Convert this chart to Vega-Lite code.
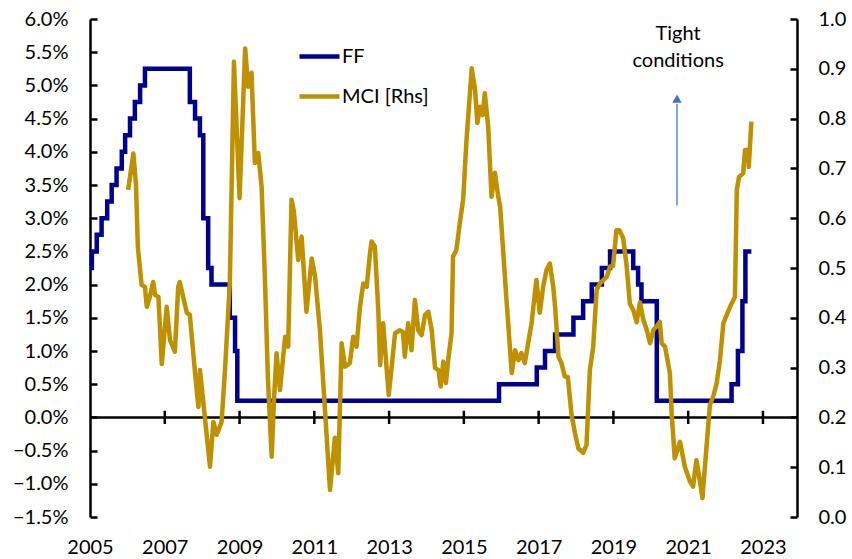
{
  "$schema": "https://vega.github.io/schema/vega-lite/v6.json",
  "width": 707,
  "height": 498,
  "autosize": {"type": "none"},
  "padding": {"left": 90, "top": 19, "right": 55, "bottom": 42},
  "background": "white",
  "config": {
    "view": {"stroke": null},
    "font": "Lato",
    "axis": {"grid": false, "labelFont": "Lato", "labelFontSize": 20, "labelColor": "black", "labelOverlap": false, "labelFlush": false, "labelBound": false}
  },
  "datasets": {
    "ff": [
      {"year": 2005.00, "ff": 2.25}, {"year": 2005.05, "ff": 2.5}, {"year": 2005.18, "ff": 2.75}, {"year": 2005.31, "ff": 3.0},
      {"year": 2005.46, "ff": 3.25}, {"year": 2005.58, "ff": 3.5}, {"year": 2005.71, "ff": 3.75}, {"year": 2005.85, "ff": 4.0},
      {"year": 2005.94, "ff": 4.25}, {"year": 2006.07, "ff": 4.5}, {"year": 2006.20, "ff": 4.75}, {"year": 2006.34, "ff": 5.0},
      {"year": 2006.47, "ff": 5.25}, {"year": 2007.67, "ff": 4.75}, {"year": 2007.81, "ff": 4.5}, {"year": 2007.94, "ff": 4.25},
      {"year": 2008.03, "ff": 3.0}, {"year": 2008.16, "ff": 2.25}, {"year": 2008.25, "ff": 2.0}, {"year": 2008.74, "ff": 1.5},
      {"year": 2008.88, "ff": 1.0}, {"year": 2008.94, "ff": 0.25}, {"year": 2015.94, "ff": 0.5}, {"year": 2016.95, "ff": 0.75},
      {"year": 2017.17, "ff": 1.0}, {"year": 2017.44, "ff": 1.25}, {"year": 2017.93, "ff": 1.5}, {"year": 2018.19, "ff": 1.75},
      {"year": 2018.42, "ff": 2.0}, {"year": 2018.69, "ff": 2.25}, {"year": 2018.91, "ff": 2.5}, {"year": 2019.53, "ff": 2.25},
      {"year": 2019.66, "ff": 2.0}, {"year": 2019.75, "ff": 1.75}, {"year": 2020.16, "ff": 0.25}, {"year": 2022.16, "ff": 0.5},
      {"year": 2022.33, "ff": 1.0}, {"year": 2022.45, "ff": 1.75}, {"year": 2022.53, "ff": 2.5}, {"year": 2022.69, "ff": 2.5}
    ],
    "mci": [
      {"year": 2006.02, "mci": 0.657}, {"year": 2006.16, "mci": 0.730}, {"year": 2006.23, "mci": 0.667}, {"year": 2006.28, "mci": 0.542},
      {"year": 2006.38, "mci": 0.466}, {"year": 2006.47, "mci": 0.462}, {"year": 2006.52, "mci": 0.422}, {"year": 2006.60, "mci": 0.442},
      {"year": 2006.69, "mci": 0.472}, {"year": 2006.74, "mci": 0.446}, {"year": 2006.83, "mci": 0.442}, {"year": 2006.92, "mci": 0.307},
      {"year": 2007.05, "mci": 0.422}, {"year": 2007.14, "mci": 0.355}, {"year": 2007.27, "mci": 0.332}, {"year": 2007.36, "mci": 0.462},
      {"year": 2007.40, "mci": 0.472}, {"year": 2007.59, "mci": 0.410}, {"year": 2007.67, "mci": 0.406}, {"year": 2007.81, "mci": 0.289},
      {"year": 2007.90, "mci": 0.221}, {"year": 2007.94, "mci": 0.295}, {"year": 2008.08, "mci": 0.195}, {"year": 2008.21, "mci": 0.101},
      {"year": 2008.30, "mci": 0.191}, {"year": 2008.39, "mci": 0.165}, {"year": 2008.52, "mci": 0.191}, {"year": 2008.61, "mci": 0.295},
      {"year": 2008.74, "mci": 0.470}, {"year": 2008.85, "mci": 0.914}, {"year": 2009.00, "mci": 0.640}, {"year": 2009.15, "mci": 0.941},
      {"year": 2009.23, "mci": 0.864}, {"year": 2009.32, "mci": 0.892}, {"year": 2009.41, "mci": 0.711}, {"year": 2009.50, "mci": 0.731},
      {"year": 2009.59, "mci": 0.663}, {"year": 2009.68, "mci": 0.476}, {"year": 2009.76, "mci": 0.275}, {"year": 2009.86, "mci": 0.121},
      {"year": 2009.92, "mci": 0.235}, {"year": 2009.99, "mci": 0.329}, {"year": 2010.08, "mci": 0.255}, {"year": 2010.22, "mci": 0.362},
      {"year": 2010.30, "mci": 0.342}, {"year": 2010.39, "mci": 0.637}, {"year": 2010.45, "mci": 0.615}, {"year": 2010.57, "mci": 0.516},
      {"year": 2010.66, "mci": 0.563}, {"year": 2010.79, "mci": 0.412}, {"year": 2010.93, "mci": 0.519}, {"year": 2011.02, "mci": 0.483},
      {"year": 2011.15, "mci": 0.375}, {"year": 2011.28, "mci": 0.221}, {"year": 2011.42, "mci": 0.054}, {"year": 2011.55, "mci": 0.159},
      {"year": 2011.64, "mci": 0.088}, {"year": 2011.73, "mci": 0.349}, {"year": 2011.82, "mci": 0.302}, {"year": 2011.95, "mci": 0.309},
      {"year": 2012.04, "mci": 0.362}, {"year": 2012.13, "mci": 0.342}, {"year": 2012.22, "mci": 0.422}, {"year": 2012.31, "mci": 0.469},
      {"year": 2012.40, "mci": 0.462}, {"year": 2012.49, "mci": 0.530}, {"year": 2012.53, "mci": 0.553}, {"year": 2012.62, "mci": 0.543},
      {"year": 2012.71, "mci": 0.416}, {"year": 2012.76, "mci": 0.305}, {"year": 2012.84, "mci": 0.389}, {"year": 2012.93, "mci": 0.302},
      {"year": 2012.99, "mci": 0.245}, {"year": 2013.16, "mci": 0.369}, {"year": 2013.29, "mci": 0.375}, {"year": 2013.37, "mci": 0.371},
      {"year": 2013.42, "mci": 0.322}, {"year": 2013.51, "mci": 0.389}, {"year": 2013.60, "mci": 0.335}, {"year": 2013.69, "mci": 0.436},
      {"year": 2013.78, "mci": 0.375}, {"year": 2013.87, "mci": 0.365}, {"year": 2013.96, "mci": 0.406}, {"year": 2014.05, "mci": 0.412},
      {"year": 2014.14, "mci": 0.375}, {"year": 2014.23, "mci": 0.299}, {"year": 2014.32, "mci": 0.295}, {"year": 2014.38, "mci": 0.262},
      {"year": 2014.45, "mci": 0.312}, {"year": 2014.52, "mci": 0.269}, {"year": 2014.58, "mci": 0.315}, {"year": 2014.67, "mci": 0.369},
      {"year": 2014.71, "mci": 0.523}, {"year": 2014.80, "mci": 0.536}, {"year": 2014.89, "mci": 0.590}, {"year": 2014.98, "mci": 0.637},
      {"year": 2015.07, "mci": 0.757}, {"year": 2015.21, "mci": 0.901}, {"year": 2015.30, "mci": 0.857}, {"year": 2015.36, "mci": 0.791},
      {"year": 2015.43, "mci": 0.824}, {"year": 2015.50, "mci": 0.807}, {"year": 2015.56, "mci": 0.851}, {"year": 2015.65, "mci": 0.784},
      {"year": 2015.74, "mci": 0.643}, {"year": 2015.83, "mci": 0.691}, {"year": 2015.92, "mci": 0.643}, {"year": 2015.97, "mci": 0.623},
      {"year": 2016.14, "mci": 0.436}, {"year": 2016.28, "mci": 0.289}, {"year": 2016.37, "mci": 0.335}, {"year": 2016.46, "mci": 0.315},
      {"year": 2016.54, "mci": 0.329}, {"year": 2016.63, "mci": 0.309}, {"year": 2016.72, "mci": 0.349}, {"year": 2016.81, "mci": 0.389},
      {"year": 2016.94, "mci": 0.476}, {"year": 2017.03, "mci": 0.410}, {"year": 2017.12, "mci": 0.462}, {"year": 2017.21, "mci": 0.496},
      {"year": 2017.30, "mci": 0.509}, {"year": 2017.39, "mci": 0.462}, {"year": 2017.44, "mci": 0.422}, {"year": 2017.53, "mci": 0.322},
      {"year": 2017.61, "mci": 0.309}, {"year": 2017.70, "mci": 0.282}, {"year": 2017.78, "mci": 0.281}, {"year": 2017.88, "mci": 0.205},
      {"year": 2017.97, "mci": 0.169}, {"year": 2018.06, "mci": 0.138}, {"year": 2018.19, "mci": 0.129}, {"year": 2018.28, "mci": 0.145},
      {"year": 2018.37, "mci": 0.295}, {"year": 2018.46, "mci": 0.342}, {"year": 2018.55, "mci": 0.456}, {"year": 2018.64, "mci": 0.469},
      {"year": 2018.82, "mci": 0.482}, {"year": 2018.91, "mci": 0.503}, {"year": 2018.99, "mci": 0.504}, {"year": 2019.08, "mci": 0.576},
      {"year": 2019.16, "mci": 0.576}, {"year": 2019.26, "mci": 0.560}, {"year": 2019.35, "mci": 0.506}, {"year": 2019.44, "mci": 0.428},
      {"year": 2019.53, "mci": 0.416}, {"year": 2019.62, "mci": 0.391}, {"year": 2019.71, "mci": 0.431}, {"year": 2019.80, "mci": 0.396},
      {"year": 2019.89, "mci": 0.376}, {"year": 2019.98, "mci": 0.349}, {"year": 2020.07, "mci": 0.376}, {"year": 2020.15, "mci": 0.382},
      {"year": 2020.24, "mci": 0.392}, {"year": 2020.29, "mci": 0.349}, {"year": 2020.38, "mci": 0.342}, {"year": 2020.51, "mci": 0.289},
      {"year": 2020.56, "mci": 0.205}, {"year": 2020.64, "mci": 0.118}, {"year": 2020.78, "mci": 0.151}, {"year": 2020.91, "mci": 0.101},
      {"year": 2021.05, "mci": 0.071}, {"year": 2021.13, "mci": 0.061}, {"year": 2021.22, "mci": 0.114}, {"year": 2021.31, "mci": 0.074},
      {"year": 2021.38, "mci": 0.038}, {"year": 2021.49, "mci": 0.141}, {"year": 2021.58, "mci": 0.225}, {"year": 2021.67, "mci": 0.242},
      {"year": 2021.76, "mci": 0.268}, {"year": 2021.85, "mci": 0.315}, {"year": 2021.94, "mci": 0.389}, {"year": 2022.03, "mci": 0.406},
      {"year": 2022.12, "mci": 0.422}, {"year": 2022.25, "mci": 0.442}, {"year": 2022.30, "mci": 0.657}, {"year": 2022.36, "mci": 0.683},
      {"year": 2022.47, "mci": 0.690}, {"year": 2022.52, "mci": 0.737}, {"year": 2022.61, "mci": 0.737}, {"year": 2022.62, "mci": 0.703},
      {"year": 2022.69, "mci": 0.794}
    ],
    "xticks": [
      {"year": 2007}, {"year": 2009}, {"year": 2011}, {"year": 2013}, {"year": 2015}, {"year": 2017}, {"year": 2019}, {"year": 2021}, {"year": 2023}
    ]
  },
  "layer": [
    {
      "data": {"name": "ff"},
      "mark": {"type": "line", "interpolate": "step-after", "strokeWidth": 4.5, "strokeJoin": "miter", "strokeCap": "butt"},
      "encoding": {
        "x": {"field": "year", "type": "quantitative", "scale": {"domain": [2005, 2023.91], "nice": false, "zero": false},
          "axis": {"title": null, "values": [2005, 2007, 2009, 2011, 2013, 2015, 2017, 2019, 2021, 2023], "format": "d", "domain": false, "ticks": false, "labelPadding": 20}},
        "y": {"field": "ff", "type": "quantitative", "scale": {"domain": [-1.5, 6], "nice": false, "zero": false},
          "axis": {"title": null, "orient": "left", "values": [-1.5, -1, -0.5, 0, 0.5, 1, 1.5, 2, 2.5, 3, 3.5, 4, 4.5, 5, 5.5, 6],
            "labelExpr": "format(datum.value, '.1f') + '%'", "domain": true, "domainColor": "black", "domainWidth": 2.5,
            "ticks": true, "tickSize": -7, "tickWidth": 2.5, "tickColor": "black", "labelPadding": 29}},
        "color": {"datum": "FF", "type": "nominal",
          "scale": {"domain": ["FF", "MCI [Rhs]"], "range": ["#000090", "#BF9000"]},
          "legend": {"orient": "none", "legendX": 207, "legendY": 15, "title": null, "symbolType": "stroke", "symbolSize": 1600,
            "symbolStrokeWidth": 4.5, "labelFontSize": 20, "labelFont": "Lato", "labelColor": "black", "labelOffset": 0, "rowPadding": 7, "padding": 0}}
      }
    },
    {
      "data": {"values": [{}]},
      "mark": {"type": "rule", "color": "black", "strokeWidth": 2.5},
      "encoding": {
        "y": {"datum": 0, "type": "quantitative", "scale": {"domain": [-1.5, 6], "nice": false, "zero": false}, "axis": null}
      }
    },
    {
      "data": {"name": "xticks"},
      "mark": {"type": "rule", "color": "black", "strokeWidth": 2.5},
      "encoding": {
        "x": {"field": "year", "type": "quantitative",
          "axis": {"title": null, "values": [2005, 2007, 2009, 2011, 2013, 2015, 2017, 2019, 2021, 2023], "format": "d", "domain": false, "ticks": false, "labelPadding": 20}},
        "y": {"datum": -0.1, "type": "quantitative", "scale": {"domain": [-1.5, 6], "nice": false, "zero": false}, "axis": null},
        "y2": {"datum": 0.1}
      }
    },
    {
      "data": {"values": [{}]},
      "mark": {"type": "rule", "color": "#5B8BD0", "strokeWidth": 1.5},
      "encoding": {
        "x": {"datum": 2020.70, "type": "quantitative",
          "axis": {"title": null, "values": [2005, 2007, 2009, 2011, 2013, 2015, 2017, 2019, 2021, 2023], "format": "d", "domain": false, "ticks": false, "labelPadding": 20}},
        "y": {"datum": 3.19, "type": "quantitative", "scale": {"domain": [-1.5, 6], "nice": false, "zero": false}, "axis": null},
        "y2": {"datum": 4.72}
      }
    },
    {
      "data": {"values": [{}]},
      "mark": {"type": "point", "shape": "triangle-up", "filled": true, "size": 90, "color": "#4472C4", "opacity": 1},
      "encoding": {
        "x": {"datum": 2020.70, "type": "quantitative",
          "axis": {"title": null, "values": [2005, 2007, 2009, 2011, 2013, 2015, 2017, 2019, 2021, 2023], "format": "d", "domain": false, "ticks": false, "labelPadding": 20}},
        "y": {"datum": 4.80, "type": "quantitative", "scale": {"domain": [-1.5, 6], "nice": false, "zero": false}, "axis": null}
      }
    },
    {
      "data": {"values": [{}]},
      "mark": {"type": "text", "text": ["Tight", "conditions"], "font": "Lato", "fontSize": 20, "lineHeight": 27, "align": "center", "baseline": "alphabetic", "color": "black"},
      "encoding": {
        "x": {"datum": 2020.73, "type": "quantitative",
          "axis": {"title": null, "values": [2005, 2007, 2009, 2011, 2013, 2015, 2017, 2019, 2021, 2023], "format": "d", "domain": false, "ticks": false, "labelPadding": 20}},
        "y": {"datum": 5.68, "type": "quantitative", "scale": {"domain": [-1.5, 6], "nice": false, "zero": false}, "axis": null}
      }
    },
    {
      "data": {"name": "mci"},
      "mark": {"type": "line", "strokeWidth": 4.5, "strokeJoin": "round"},
      "encoding": {
        "x": {"field": "year", "type": "quantitative",
          "axis": {"title": null, "values": [2005, 2007, 2009, 2011, 2013, 2015, 2017, 2019, 2021, 2023], "format": "d", "domain": false, "ticks": false, "labelPadding": 20}},
        "y": {"field": "mci", "type": "quantitative", "scale": {"domain": [0, 1], "nice": false, "zero": false},
          "axis": {"title": null, "orient": "right", "values": [0, 0.1, 0.2, 0.3, 0.4, 0.5, 0.6, 0.7, 0.8, 0.9, 1.0], "format": ".1f",
            "domain": true, "domainColor": "black", "domainWidth": 2.5, "ticks": true, "tickSize": -7, "tickWidth": 2.5, "tickColor": "black", "labelPadding": 28}},
        "color": {"datum": "MCI [Rhs]", "type": "nominal"}
      }
    }
  ],
  "resolve": {"scale": {"y": "independent"}}
}
